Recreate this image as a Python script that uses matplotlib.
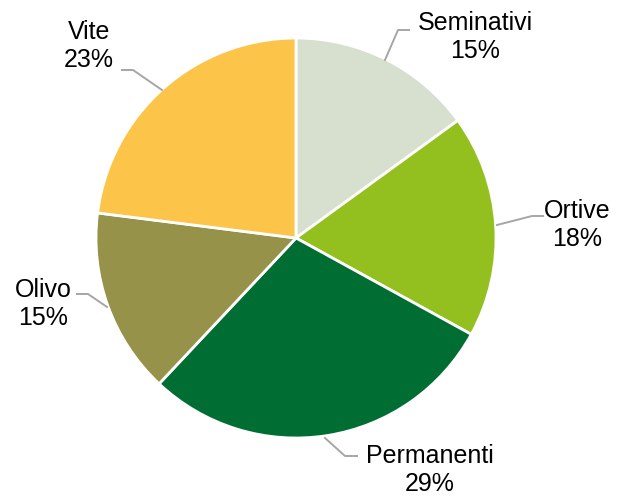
import matplotlib.pyplot as plt

# Data
labels = ['Seminativi', 'Ortive', 'Permanenti', 'Olivo', 'Vite']
values = [15, 18, 29, 15, 23]
colors = ['#D7DFCF', '#93C01F', '#006E33', '#97924A', '#FCC54A']

plt.rcParams['font.family'] = ['Liberation Sans', 'DejaVu Sans']

W, H = 621, 497
fig = plt.figure(figsize=(W / 100, H / 100), dpi=100)
ax = fig.add_axes([0, 0, 1, 1])

# pie in pixel coords (y axis flipped -> counterclock True gives clockwise on screen)
ax.pie(values, colors=colors, startangle=-90, counterclock=True,
       center=(296, 238), radius=200, frame=True,
       wedgeprops=dict(edgecolor='white', linewidth=2))
ax.set_xlim(0, W)
ax.set_ylim(H, 0)
ax.set_aspect('equal')
ax.axis('off')

# label positions (text centre) and leader lines, same order as labels
text_pos = [(475, 37), (577, 225), (430, 470), (43, 304), (89, 46)]
leaders = [
    [(385, 60), (398, 30), (409, 30)],
    [(497, 225), (532, 216), (543, 216)],
    [(325, 438), (345, 456), (357, 456)],
    [(107, 307), (88, 294), (77, 294)],
    [(162, 90), (133, 70), (122, 70)],
]

for lab, v, (tx, ty), pts in zip(labels, values, text_pos, leaders):
    xs = [p[0] for p in pts]
    ys = [p[1] for p in pts]
    ax.plot(xs, ys, color='#A6A6A6', linewidth=1.4)
    ax.text(tx, ty, f'{lab}\n{v}%', ha='center', va='center',
            fontsize=18, linespacing=1.18, color='black')

fig.savefig('out.png', dpi=100)
